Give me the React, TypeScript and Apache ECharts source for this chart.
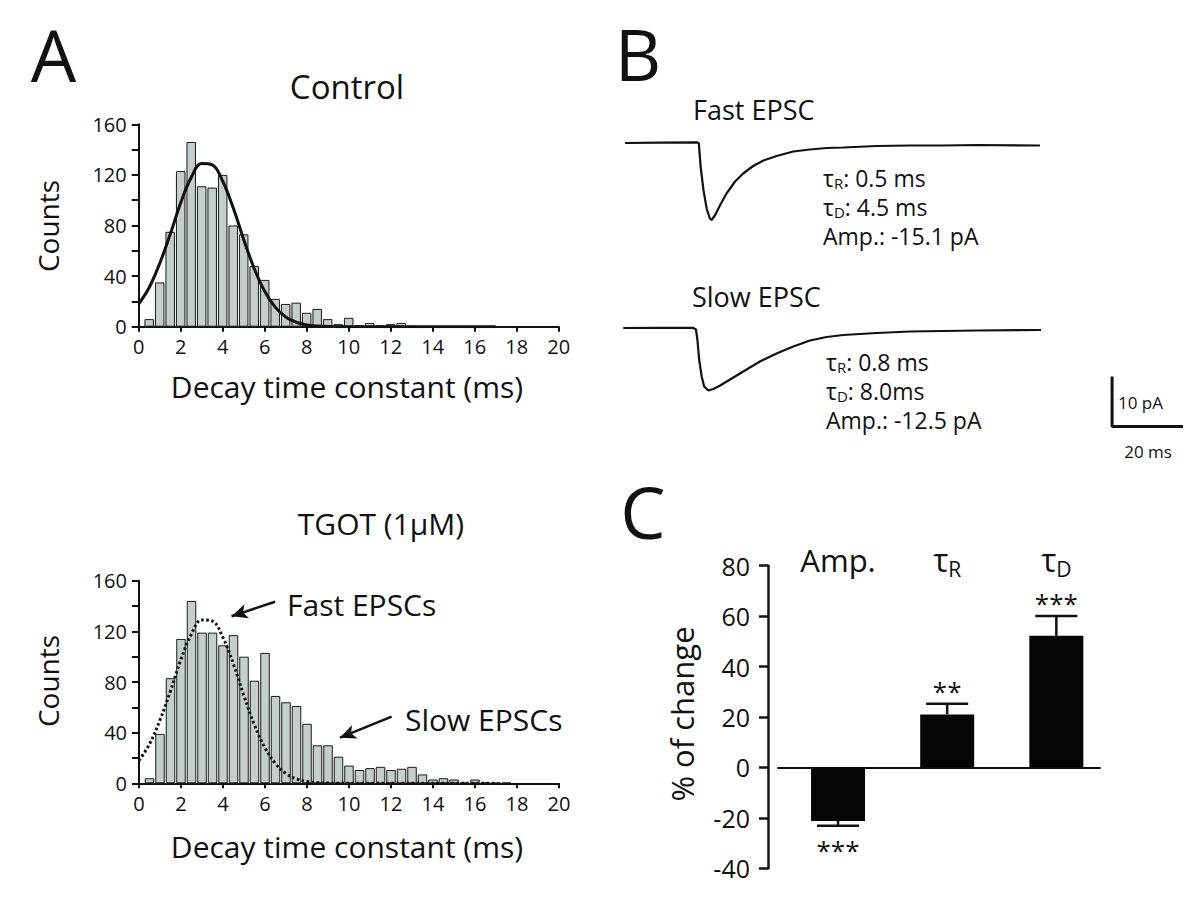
import React, { useEffect, useRef } from 'react';
import * as echarts from 'echarts';

const FONT = '"Open Sans", "Noto Sans", sans-serif';

// ---------- Panel A: histograms of decay time constants ----------
const BIN_CENTERS = [0.5, 1, 1.5, 2, 2.5, 3, 3.5, 4, 4.5, 5, 5.5, 6, 6.5, 7, 7.5, 8, 8.5, 9, 9.5, 10, 10.5, 11, 11.5, 12, 12.5, 13, 13.5, 14, 14.5, 15, 15.5, 16, 16.5, 17, 17.5];
const CONTROL_COUNTS = [6, 35, 75, 123, 146, 111, 110, 120, 80, 73, 48, 37, 22, 18, 19, 11, 14, 6, 2, 7, 1, 3, 1, 2, 3, 0.5, 0, 0, 0, 0, 0, 0, 0, 0, 0];
const TGOT_COUNTS = [4, 39, 83, 114, 144, 119, 119, 109, 117, 100, 81, 103, 69, 64, 61, 47, 30, 30, 21, 14, 10.5, 12, 13, 10.5, 11.5, 13, 7, 3, 4, 3, 0.5, 3, 0.5, 0.5, 0.5];
// fitted curve
const FIT_X = [0, 0.5, 1, 1.5, 2, 2.5, 3, 3.5, 4, 4.5, 5, 5.5, 6, 6.5, 7, 7.5, 8, 8.5, 9, 9.5, 10, 11, 12, 13, 14, 15, 16, 17];
const FIT_COUNTS = [18, 31, 50, 73, 98, 118, 129, 128, 115, 94, 69, 46, 28, 15.5, 7.7, 3.5, 1.4, 0.5, 0.2, 0, 0, 0, 0, 0, 0, 0, 0, 0];
// annotation arrows in data units [ms, counts]
const ARROW_FROM = [[6.48, 143.4], [12.03, 52.6]];
const ARROW_TO = [[4.41, 131.9], [9.57, 36.0]];

// ---------- Panel B: example traces (ms, pA) ----------
const FAST_T = [0, 9.9, 20.4, 20.8, 21.3, 22.1, 23.0, 23.9, 24.4, 25.4, 26.8, 28.6, 31.0, 33.3, 36.1, 39.0, 42.7, 47.4, 52.1, 56.8, 61.5, 70.9, 80.3, 89.7, 99.1, 116.9];
const FAST_I = [0, 0.07, 0.13, -0.07, -4.7, -9.4, -13.1, -15.1, -15.4, -14.4, -12.4, -10.1, -7.7, -6.1, -4.6, -3.5, -2.6, -1.7, -1.3, -1.0, -0.9, -0.6, -0.5, -0.5, -0.4, -0.5];
const SLOW_T = [-0.5, 9.9, 19.2, 20.0, 20.4, 20.9, 21.6, 22.3, 23.5, 24.9, 26.8, 29.6, 33.3, 38.0, 42.7, 47.4, 52.1, 56.8, 61.5, 70.9, 80.3, 89.7, 99.1, 117.2];
const SLOW_I = [0, 0.03, 0.03, -0.3, -2.4, -6.4, -9.7, -11.7, -12.5, -12.2, -11.5, -10.3, -8.7, -6.7, -5.1, -3.7, -2.5, -1.8, -1.4, -1.0, -0.7, -0.6, -0.5, -0.4];
const SCALE_T0 = 137.2;
const SCALE_I0 = -19.7;
const SCALE_MS = 20;
const SCALE_PA = 10;

// ---------- Panel C: % of change ----------
const C_CATS = [{ main: 'Amp.', sub: '' }, { main: 'τ', sub: 'R' }, { main: 'τ', sub: 'D' }];
const C_MEANS = [-21.3, 21.0, 52.2];
const C_SEM = [1.9, 4.2, 7.8];
const C_STARS = ['***', '**', '***'];

let measureCtx: CanvasRenderingContext2D | null = null;
function textWidth(t: string, size: number) {
  if (!measureCtx) measureCtx = document.createElement('canvas').getContext('2d');
  if (!measureCtx) return t.length * size * 0.55;
  measureCtx.font = `${size}px ${FONT}`;
  return measureCtx.measureText(t).width;
}

function txt(x: number, y: number, text: string, size: number, align = 'left', extra: any = {}) {
  return {
    type: 'text',
    x,
    y,
    ...extra,
    style: {
      text,
      fontSize: size,
      fontFamily: FONT,
      fill: '#111',
      align,
      textAlign: align,
      verticalAlign: 'middle',
      textVerticalAlign: 'middle',
    },
  };
}

type Run = { t: string; s: number; dy?: number };
function runs(x: number, y: number, parts: Run[], align: 'left' | 'center' = 'left') {
  const widths = parts.map((p) => textWidth(p.t, p.s));
  const total = widths.reduce((a, b) => a + b, 0);
  let cur = align === 'center' ? x - total / 2 : x;
  return parts.map((p, i) => {
    const el = txt(cur, y + (p.dy || 0), p.t, p.s, 'left');
    cur += widths[i];
    return el;
  });
}

function histX(gridIndex: number) {
  return {
    type: 'value', gridIndex, min: 0, max: 20, interval: 2,
    axisLine: { show: true, onZero: false, lineStyle: { color: '#111', width: 2 } },
    axisTick: { show: true, length: 5, lineStyle: { color: '#111', width: 2 } },
    axisLabel: { color: '#111', fontSize: 20, fontFamily: FONT, margin: 10, showMinLabel: true, showMaxLabel: true },
    splitLine: { show: false },
  };
}
function histY(gridIndex: number) {
  return {
    type: 'value', gridIndex, min: 0, max: 160, interval: 20,
    axisLine: { show: true, onZero: false, lineStyle: { color: '#111', width: 2 } },
    axisTick: { show: true, length: 7, lineStyle: { color: '#111', width: 2 } },
    axisLabel: {
      color: '#111', fontSize: 20, fontFamily: FONT, margin: 12, showMinLabel: true, showMaxLabel: true,
      formatter: (v: number) => (v % 40 === 0 ? String(v) : ''),
    },
    splitLine: { show: false },
  };
}
function hiddenAxis(type: string, gridIndex: number, min: number, max: number) {
  return { type, gridIndex, min, max, show: false, splitLine: { show: false } };
}

function pairs(xs: number[], ys: number[]) {
  return xs.map((x, i) => [x, ys[i]]);
}

function buildOption() {
  const barStyle = { color: '#c3cecd', borderColor: '#1a1a1a', borderWidth: 1 };
  const graphic: any[] = [
    txt(53.5, 54, 'A', 72, 'center'),
    txt(638, 53, 'B', 72, 'center'),
    txt(643, 511, 'C', 72, 'center'),
    txt(347, 86, 'Control', 33, 'center'),
    txt(381, 523, 'TGOT (1μM)', 30, 'center'),
    txt(48, 226, 'Counts', 28, 'center', { rotation: Math.PI / 2 }),
    txt(48, 681, 'Counts', 28, 'center', { rotation: Math.PI / 2 }),
    txt(347, 386, 'Decay time constant (ms)', 30, 'center'),
    txt(347, 846, 'Decay time constant (ms)', 30, 'center'),
    txt(287, 604, 'Fast EPSCs', 30, 'left'),
    txt(405, 719, 'Slow EPSCs', 30, 'left'),
    txt(693, 109, 'Fast EPSC', 27, 'left'),
    txt(692, 296, 'Slow EPSC', 27, 'left'),
    ...runs(823, 178, [{ t: 'τ', s: 23 }, { t: 'R', s: 15, dy: 5 }, { t: ': 0.5 ms', s: 23 }]),
    ...runs(823, 207, [{ t: 'τ', s: 23 }, { t: 'D', s: 15, dy: 5 }, { t: ': 4.5 ms', s: 23 }]),
    ...runs(823, 236, [{ t: 'Amp.: -15.1 pA', s: 23 }]),
    ...runs(826, 362, [{ t: 'τ', s: 23 }, { t: 'R', s: 15, dy: 5 }, { t: ': 0.8 ms', s: 23 }]),
    ...runs(826, 391, [{ t: 'τ', s: 23 }, { t: 'D', s: 15, dy: 5 }, { t: ': 8.0ms', s: 23 }]),
    ...runs(826, 420, [{ t: 'Amp.: -12.5 pA', s: 23 }]),
    txt(1118, 402, '10 pA', 17, 'left'),
    txt(1148, 451, '20 ms', 17, 'center'),
    txt(682, 714, '% of change', 31, 'center', { rotation: Math.PI / 2 }),
  ];

  const errData = C_MEANS.map((m, i) => [i, m, m + (m < 0 ? -C_SEM[i] : C_SEM[i])]);
  const labelData = C_CATS.map((_, i) => [i, 80]);

  return {
    animation: false,
    backgroundColor: '#fff',
    grid: [
      { left: 138.7, top: 124.3, width: 420, height: 202.4, outerBoundsMode: 'none' },
      { left: 139, top: 580.7, width: 420, height: 202.6, outerBoundsMode: 'none' },
      { left: 625, top: 133, width: 568, height: 110, outerBoundsMode: 'none' },
      { left: 625, top: 318, width: 568, height: 120, outerBoundsMode: 'none' },
      { left: 778, top: 565.7, width: 322, height: 302.5, outerBoundsMode: 'none' },
    ],
    xAxis: [
      histX(0),
      histX(1),
      hiddenAxis('value', 2, 0, 160),
      hiddenAxis('value', 3, 0, 160),
      {
        type: 'value', gridIndex: 4, min: -0.55, max: 2.4,
        axisLine: { show: true, onZero: true, lineStyle: { color: '#111', width: 2 } },
        axisTick: { show: false }, axisLabel: { show: false }, splitLine: { show: false },
      },
    ],
    yAxis: [
      histY(0),
      histY(1),
      hiddenAxis('value', 2, -20, 2),
      hiddenAxis('value', 3, -22, 2),
      {
        type: 'value', gridIndex: 4, min: -40, max: 80, interval: 20, offset: 10,
        axisLine: { show: true, onZero: false, lineStyle: { color: '#111', width: 2.5 } },
        axisTick: { show: true, length: 9, lineStyle: { color: '#111', width: 2.5 } },
        axisLabel: { color: '#111', fontSize: 25, fontFamily: FONT, margin: 18, showMinLabel: true, showMaxLabel: true },
        splitLine: { show: false },
      },
    ],
    series: [
      {
        type: 'bar', name: 'Control', xAxisIndex: 0, yAxisIndex: 0,
        data: pairs(BIN_CENTERS, CONTROL_COUNTS), barWidth: 9.5, itemStyle: barStyle, silent: true,
      },
      {
        type: 'line', name: 'Control fit', xAxisIndex: 0, yAxisIndex: 0,
        data: pairs(FIT_X, FIT_COUNTS), smooth: 0.4, showSymbol: false, symbol: 'none',
        lineStyle: { color: '#111', width: 3 }, z: 5, silent: true,
      },
      {
        type: 'bar', name: 'TGOT', xAxisIndex: 1, yAxisIndex: 1,
        data: pairs(BIN_CENTERS, TGOT_COUNTS), barWidth: 9.5, itemStyle: barStyle, silent: true,
        markLine: {
          silent: true,
          symbol: ['none', 'arrow'],
          symbolSize: [11, 16],
          label: { show: false },
          lineStyle: { color: '#111', width: 2.5, type: 'solid' },
          data: ARROW_FROM.map((f, i) => [{ coord: f }, { coord: ARROW_TO[i] }]),
        },
      },
      {
        type: 'line', name: 'Fast fit', xAxisIndex: 1, yAxisIndex: 1,
        data: pairs(FIT_X, FIT_COUNTS), smooth: 0.4, showSymbol: false, symbol: 'none',
        lineStyle: { color: '#111', width: 3, type: [2.5, 2.5] }, z: 5, silent: true,
      },
      {
        type: 'line', name: 'Fast EPSC', xAxisIndex: 2, yAxisIndex: 2,
        data: pairs(FAST_T, FAST_I), showSymbol: false, symbol: 'none',
        lineStyle: { color: '#111', width: 2.2 }, silent: true,
      },
      {
        type: 'line', name: 'Slow EPSC', xAxisIndex: 3, yAxisIndex: 3,
        data: pairs(SLOW_T, SLOW_I), showSymbol: false, symbol: 'none',
        lineStyle: { color: '#111', width: 2.2 }, silent: true,
      },
      {
        type: 'line', name: 'Scale bar', xAxisIndex: 3, yAxisIndex: 3,
        data: [[SCALE_T0, SCALE_I0 + SCALE_PA], [SCALE_T0, SCALE_I0], [SCALE_T0 + SCALE_MS, SCALE_I0]],
        showSymbol: false, symbol: 'none',
        lineStyle: { color: '#111', width: 3 }, silent: true,
      },
      {
        type: 'bar', name: '% of change', xAxisIndex: 4, yAxisIndex: 4,
        data: C_MEANS.map((m, i) => [i, m]), barWidth: 54,
        itemStyle: { color: '#050505' }, silent: true,
      },
      {
        type: 'custom', name: 'SEM', xAxisIndex: 4, yAxisIndex: 4, data: errData, z: 4, silent: true,
        renderItem: (params: any, api: any) => {
          const i = api.value(0);
          const m = api.value(1);
          const e = api.value(2);
          const p1 = api.coord([i, m]);
          const p2 = api.coord([i, e]);
          const down = e < m;
          const starY = down ? p2[1] + 24 : p2[1] - 13;
          return {
            type: 'group',
            children: [
              { type: 'line', shape: { x1: p1[0], y1: p1[1], x2: p2[0], y2: p2[1] }, style: { stroke: '#111', lineWidth: 2.5 } },
              { type: 'line', shape: { x1: p2[0] - 21, y1: p2[1], x2: p2[0] + 21, y2: p2[1] }, style: { stroke: '#111', lineWidth: 2.5 } },
              txt(p2[0], starY, C_STARS[i], 26, 'center'),
            ],
          };
        },
      },
      {
        type: 'custom', name: 'Labels', xAxisIndex: 4, yAxisIndex: 4, data: labelData, z: 4, silent: true,
        renderItem: (params: any, api: any) => {
          const i = api.value(0);
          const p = api.coord([i, api.value(1)]);
          const c = C_CATS[i];
          const parts: Run[] = c.sub
            ? [{ t: c.main, s: 32 }, { t: c.sub, s: 21, dy: 9 }]
            : [{ t: c.main, s: 31 }];
          return { type: 'group', children: runs(p[0], p[1] - 6, parts, 'center') };
        },
      },
    ],
    graphic,
  };
}

export default function App() {
  const ref = useRef<HTMLDivElement>(null);
  useEffect(() => {
    if (!ref.current) return;
    const chart = echarts.init(ref.current, null, { renderer: 'svg' });
    chart.setOption(buildOption() as any);
    return () => chart.dispose();
  }, []);
  return (
    <div
      ref={ref}
      style={{ position: 'fixed', left: 0, top: 0, width: 1200, height: 899, background: '#fff' }}
    />
  );
}
